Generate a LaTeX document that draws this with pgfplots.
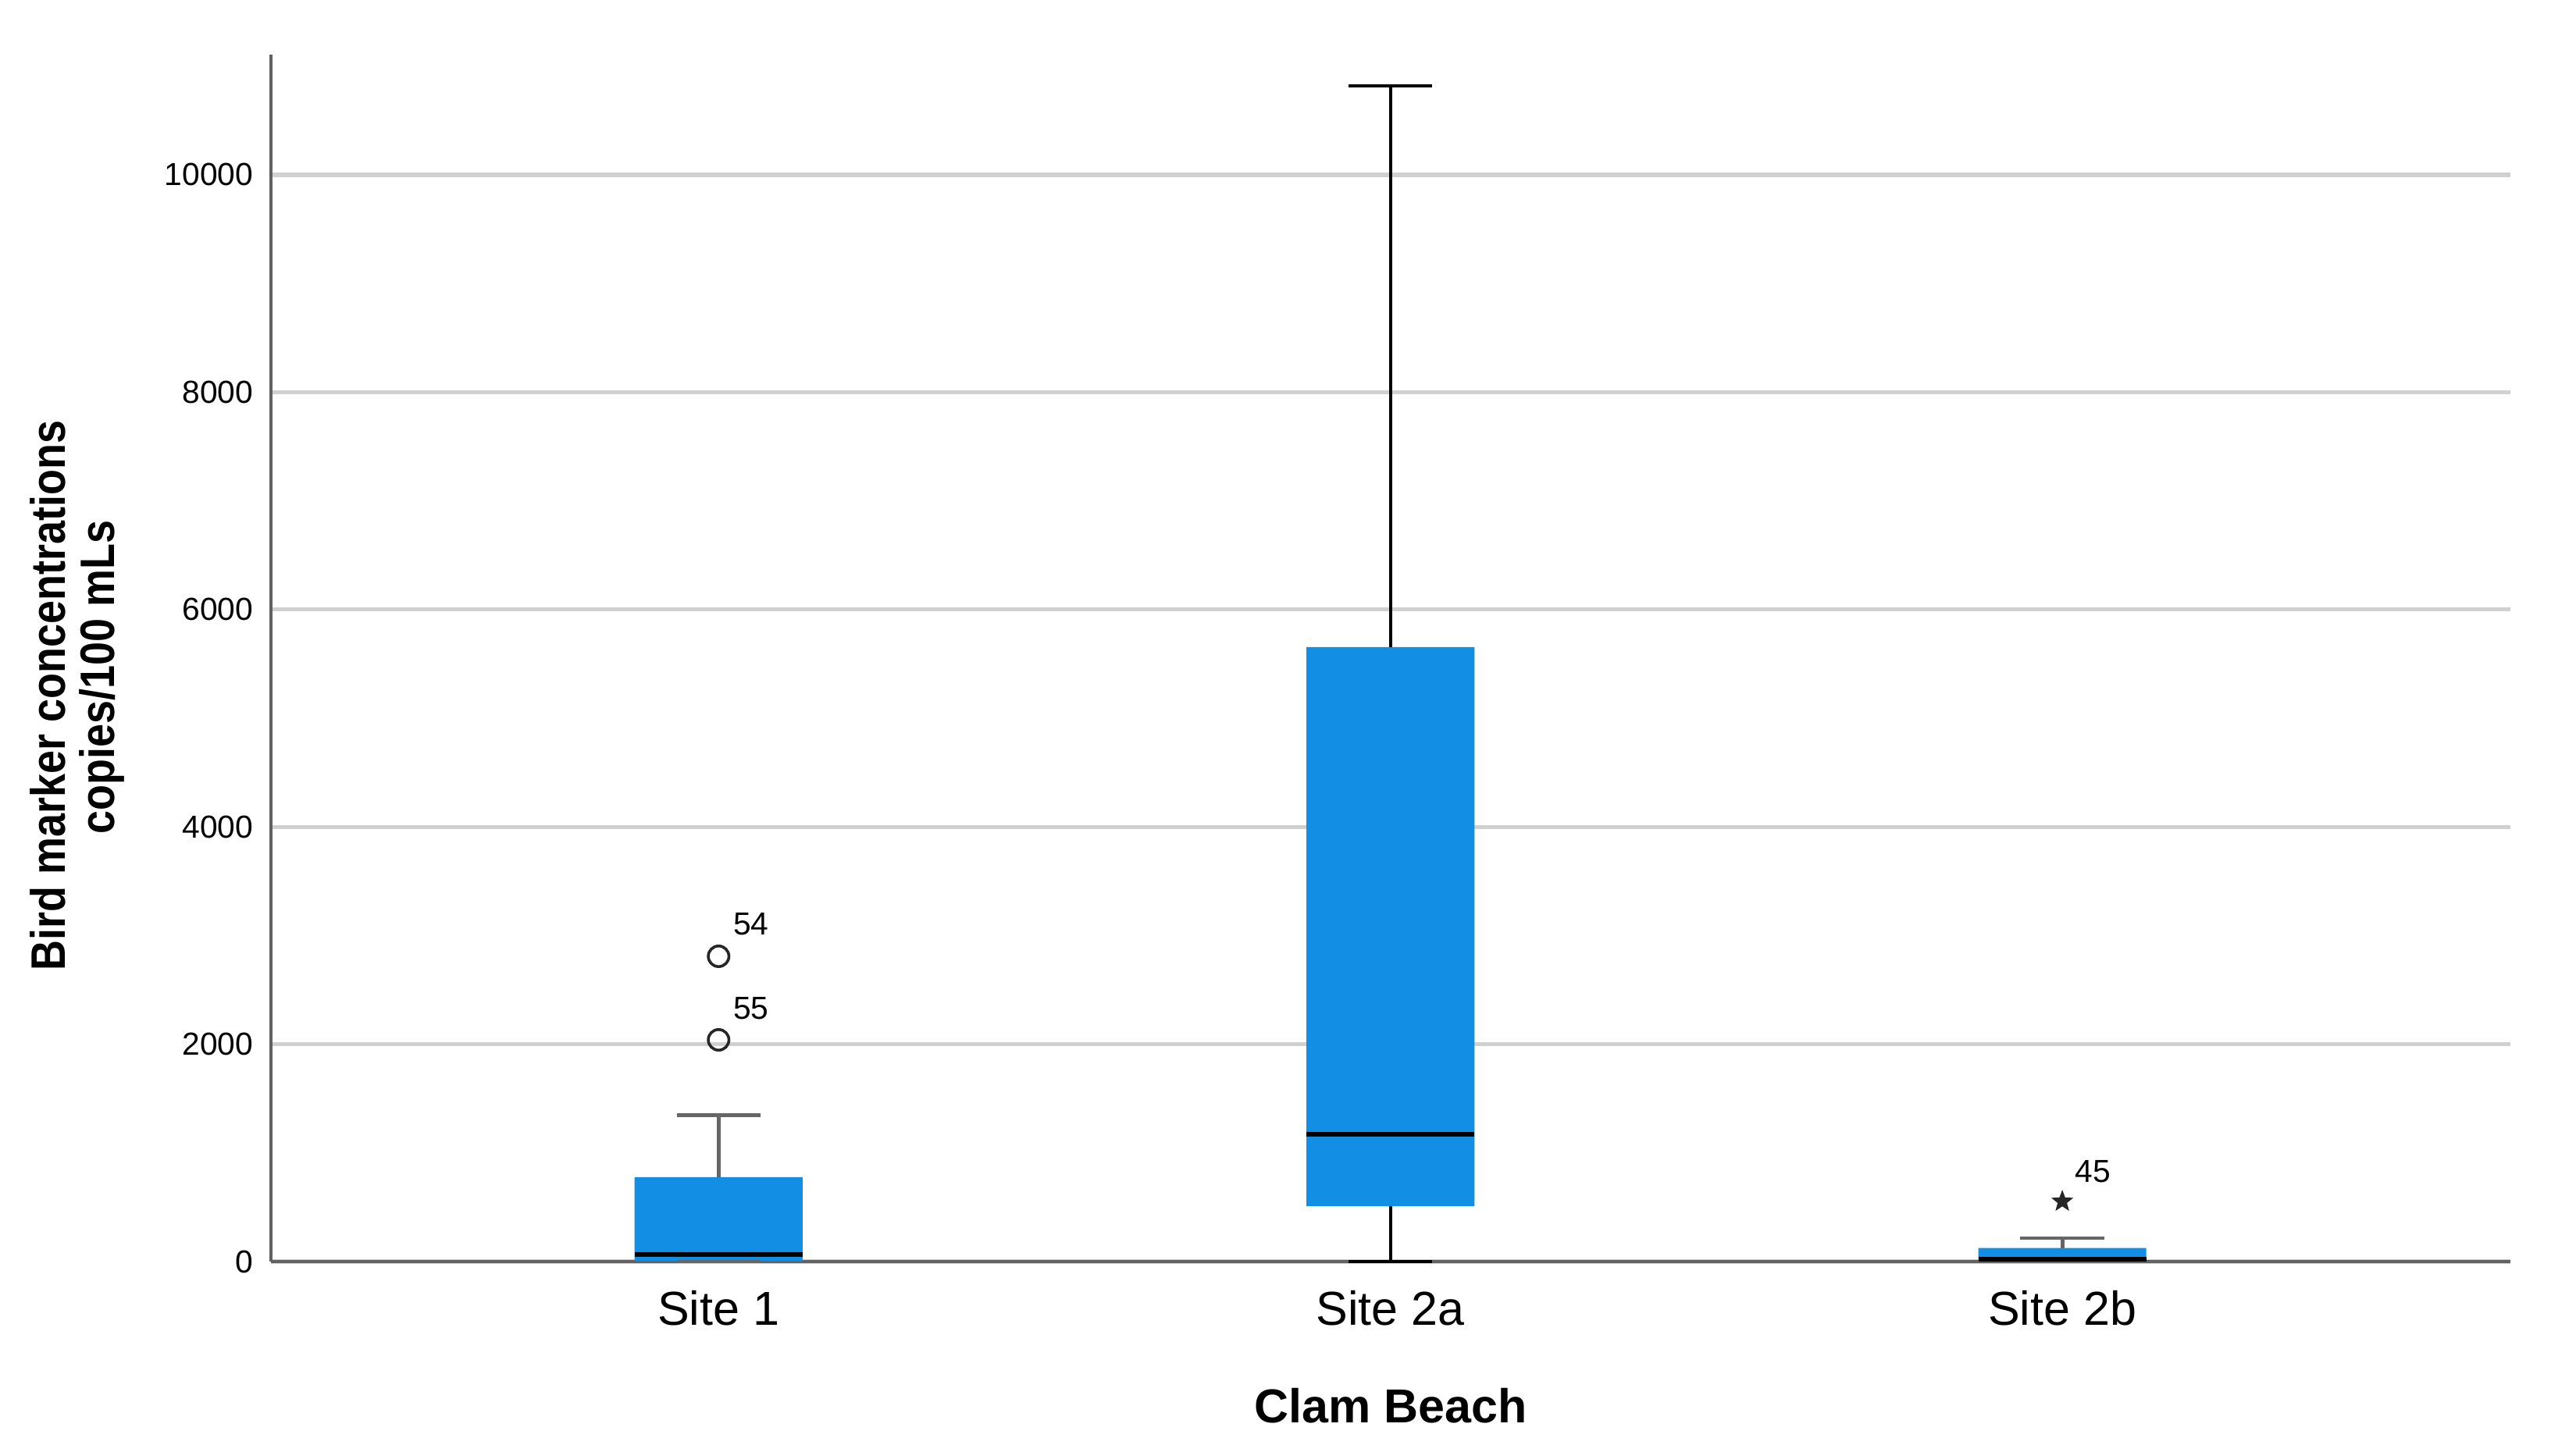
\documentclass[border=0pt]{standalone}
\usepackage{graphicx}
\usepackage{pgfplots}
\pgfplotsset{compat=1.18}
\usepackage{fontspec}
\setmainfont{Liberation Sans}
\definecolor{boxblue}{RGB}{18,143,228}
\definecolor{gridc}{RGB}{208,208,208}
\definecolor{axc}{gray}{0.38}
\definecolor{whc}{gray}{0.40}
\pgfdeclareplotmark{fstar}{%
  \pgfpathmoveto{\pgfpointpolar{90}{\pgfplotmarksize}}%
  \pgfpathlineto{\pgfpointpolar{126}{0.42\pgfplotmarksize}}%
  \pgfpathlineto{\pgfpointpolar{162}{\pgfplotmarksize}}%
  \pgfpathlineto{\pgfpointpolar{198}{0.42\pgfplotmarksize}}%
  \pgfpathlineto{\pgfpointpolar{234}{\pgfplotmarksize}}%
  \pgfpathlineto{\pgfpointpolar{270}{0.42\pgfplotmarksize}}%
  \pgfpathlineto{\pgfpointpolar{306}{\pgfplotmarksize}}%
  \pgfpathlineto{\pgfpointpolar{342}{0.42\pgfplotmarksize}}%
  \pgfpathlineto{\pgfpointpolar{18}{\pgfplotmarksize}}%
  \pgfpathlineto{\pgfpointpolar{54}{0.42\pgfplotmarksize}}%
  \pgfpathclose
  \pgfusepathqfillstroke
}
\begin{document}
\begin{tikzpicture}
\useasboundingbox (-86.75pt,-58.75pt) rectangle (738pt,404pt);
\begin{axis}[
  at={(0,0)}, anchor=south west,
  scale only axis, width=717pt, height=386.5pt,
  xmin=0.3337, xmax=3.667, ymin=0, ymax=11106,
  scaled y ticks=false, scaled x ticks=false,
  axis x line*=bottom, axis y line*=left,
  axis line style={-, draw=axc, line width=0.9pt},
  xtick={1,2,3}, xticklabels={Site 1,Site 2a,Site 2b},
  ytick={0,2000,4000,6000,8000,10000},
  yticklabels={0,2000,4000,6000,8000,10000},
  major tick length=0pt,
  ymajorgrids, grid style={draw=gridc, line width=1.3pt},
  xticklabel style={font=\fontsize{15.25}{18}\selectfont, anchor=base, yshift=-20.25pt, inner sep=0pt},
  yticklabel style={font=\fontsize{10.2}{12}\selectfont, anchor=east, inner sep=0pt, xshift=-5.5pt},
  xlabel={Clam Beach},
  every axis x label/.style={at={(axis description cs:0.5,0)}, anchor=base, yshift=-51.5pt, inner sep=0pt, font=\bfseries\fontsize{15.25}{18}\selectfont},
  ylabel={\scalebox{0.87}[1]{\begin{tabular}{c}Bird marker concentrations\\\hspace*{13.5pt}copies/100 mLs\end{tabular}}},
  every axis y label/.style={at={(axis description cs:-0.08543,0.469)}, anchor=center, rotate=90, inner sep=0pt, font=\bfseries\fontsize{15.5}{15.75}\selectfont},
  clip=false,
]
% ---- Site 1 (x=1): LW 0, Q1 5, Med 62, Q3 776, UW 1345
\addplot[fill=boxblue, draw=none] coordinates {(0.875,5) (1.125,5) (1.125,776) (0.875,776) (0.875,5)};
\addplot[whc, line width=1.2pt] coordinates {(1,776) (1,1345)};
\addplot[whc, line width=1.2pt] coordinates {(0.9375,1345) (1.0625,1345)};
\addplot[whc, line width=1.2pt] coordinates {(0.9375,0) (1.0625,0)};
\addplot[black, line width=1.5pt] coordinates {(0.875,62) (1.125,62)};
\addplot[only marks, mark=o, mark size=3.3pt, mark options={draw=black!85, line width=0.9pt, fill=none}] coordinates {(1,2809) (1,2040)};
% ---- Site 2a (x=2): LW 0, Q1 510, Med 1171, Q3 5654, UW 10819
\addplot[fill=boxblue, draw=none] coordinates {(1.875,510) (2.125,510) (2.125,5654) (1.875,5654) (1.875,510)};
\addplot[black, line width=1pt] coordinates {(2,5654) (2,10819)};
\addplot[black, line width=1pt] coordinates {(1.9375,10819) (2.0625,10819)};
\addplot[black, line width=1pt] coordinates {(2,510) (2,0)};
\addplot[black, line width=1pt] coordinates {(1.9375,0) (2.0625,0)};
\addplot[black, line width=1.5pt] coordinates {(1.875,1171) (2.125,1171)};
% ---- Site 2b (x=3): LW 0, Q1 3, Med 25, Q3 125, UW 215
\addplot[fill=boxblue, draw=none] coordinates {(2.875,3) (3.125,3) (3.125,125) (2.875,125) (2.875,3)};
\addplot[whc, line width=1.2pt] coordinates {(3,125) (3,215)};
\addplot[whc, line width=1.2pt] coordinates {(2.9375,215) (3.0625,215)};
\addplot[black, line width=1.5pt] coordinates {(2.875,25) (3.125,25)};
\addplot[only marks, mark=fstar, mark size=3.3pt, mark options={fill=black!85, draw=black!85, line width=0.3pt}] coordinates {(3,553)};
% ---- case labels
\node[anchor=base west, inner sep=0pt, font=\fontsize{10.2}{12}\selectfont] at (axis cs:1.021,3003) {54};
\node[anchor=base west, inner sep=0pt, font=\fontsize{10.2}{12}\selectfont] at (axis cs:1.021,2227) {55};
\node[anchor=base west, inner sep=0pt, font=\fontsize{10.2}{12}\selectfont] at (axis cs:3.0186,726) {45};
\end{axis}
\end{tikzpicture}
\end{document}
